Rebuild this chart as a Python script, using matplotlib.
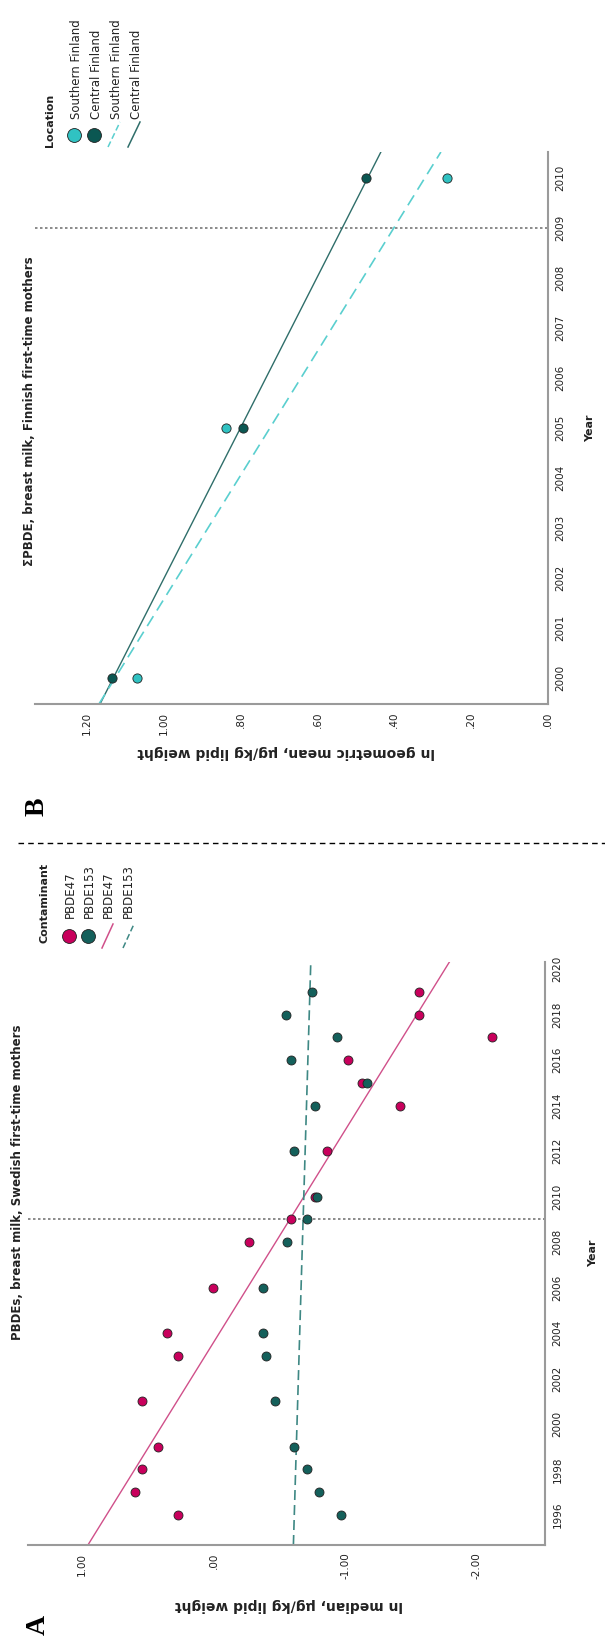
import numpy as np
import matplotlib
matplotlib.use("Agg")
import matplotlib.pyplot as plt
from matplotlib.lines import Line2D

plt.rcParams['font.family'] = ['DejaVu Sans']

# ---------------- data ----------------
# Panel A: Swedish first-time mothers, ln median (ug/kg lipid weight)
years_a = [1996, 1997, 1998, 1999, 2001, 2003, 2004, 2006, 2008, 2009,
           2010, 2012, 2014, 2015, 2016, 2017, 2018, 2019]
pbde47 = [0.27, 0.60, 0.54, 0.42, 0.54, 0.27, 0.35, 0.00, -0.27, -0.59,
          -0.77, -0.86, -1.42, -1.13, -1.02, -2.12, -1.56, -1.56]
pbde153 = [-0.97, -0.80, -0.71, -0.61, -0.47, -0.40, -0.38, -0.38, -0.56, -0.71,
           -0.79, -0.61, -0.77, -1.17, -0.59, -0.94, -0.55, -0.75]
contaminants = ["PBDE47", "PBDE153"]
ticks_year_a = list(range(1996, 2021, 2))
ticks_val_a = [1.0, 0.0, -1.0, -2.0]

# Panel B: Finnish first-time mothers, ln geometric mean
years_b = [2000, 2005, 2010]
southern = [1.07, 0.837, 0.264]
central = [1.135, 0.793, 0.473]
locations = ["Southern Finland", "Central Finland"]
ticks_year_b = list(range(2000, 2011))
ticks_val_b = [1.2, 1.0, 0.8, 0.6, 0.4, 0.2, 0.0]

ref_year = 2009

# ---------------- styling ----------------
W, H = 605, 1641
C47 = "#C8005C"
C153 = "#14605B"
C47_LINE = "#D0508A"
C153_LINE = "#3E8884"
CSOUTH = "#30C2C2"
CCENT = "#0B5752"
CSOUTH_LINE = "#5ACFCF"
CCENT_LINE = "#2F6E6A"
SPINE = "#9A9A9A"
TXT = "#222222"

fig = plt.figure(figsize=(W / 100, H / 100), dpi=100)


def fx(x):
    return x / W


def fy(y):
    return 1 - y / H


def rect(left, right, top, bottom):
    return [fx(left), fy(bottom), (right - left) / W, (bottom - top) / H]


def fmt(v):
    s = f"{v:.2f}"
    if s.startswith("0."):
        s = s[1:]
    elif s.startswith("-0."):
        s = "-" + s[2:]
    return s


def style_axes(ax, yticks, xticks):
    for sp in ["top", "left"]:
        ax.spines[sp].set_visible(False)
    for sp in ["bottom", "right"]:
        ax.spines[sp].set_color(SPINE)
        ax.spines[sp].set_linewidth(1.5)
    ax.yaxis.tick_right()
    ax.set_yticks(yticks)
    ax.set_yticklabels([str(y) for y in yticks])
    ax.set_xticks(xticks)
    ax.set_xticklabels([fmt(v) for v in xticks])
    ax.tick_params(axis="both", length=0, labelsize=7.5, colors=TXT, pad=5.5)
    ax.tick_params(axis="x", labelrotation=90)
    ax.tick_params(axis="y", labelrotation=90)
    for lab in ax.get_yticklabels():
        lab.set_va("center")
    ax.patch.set_alpha(0)


# ---------------- Panel A ----------------
axA = fig.add_axes(rect(28, 545, 962, 1545))
ylimA = (1994.68, 2020.31)
xlimA = (1.41, -2.52)
axA.set_xlim(*xlimA)
axA.set_ylim(*ylimA)
axA.axhline(ref_year, color="#777777", lw=1.2, ls=(0, (1.5, 1.5)), zorder=1)
yy = np.array(ylimA)
c47 = np.polyfit(years_a, pbde47, 1)
c153 = np.polyfit(years_a, pbde153, 1)
axA.plot(np.polyval(c47, yy), yy, color=C47_LINE, lw=1.0, zorder=2)
axA.plot(np.polyval(c153, yy), yy, color=C153_LINE, lw=1.2, ls=(0, (6, 3)), zorder=2)
axA.scatter(pbde47, years_a, s=42, color=C47, edgecolor="#222222", linewidth=0.6, zorder=3)
axA.scatter(pbde153, years_a, s=42, color=C153, edgecolor="#222222", linewidth=0.6, zorder=3)
style_axes(axA, ticks_year_a, ticks_val_a)

# ---------------- Panel B ----------------
axB = fig.add_axes(rect(35, 548, 152, 704))
ylimB = (1999.48, 2010.52)
xlimB = (1.335, 0.0)
axB.set_xlim(*xlimB)
axB.set_ylim(*ylimB)
axB.axhline(ref_year, color="#777777", lw=1.2, ls=(0, (1.5, 1.5)), zorder=1)
yb = np.array(ylimB)
cs = np.polyfit(years_b, southern, 1)
cc = np.polyfit(years_b, central, 1)
axB.plot(np.polyval(cc, yb), yb, color=CCENT_LINE, lw=1.0, zorder=2)
axB.plot(np.polyval(cs, yb), yb, color=CSOUTH_LINE, lw=1.2, ls=(0, (7, 4)), zorder=2)
axB.scatter(southern, years_b, s=44, color=CSOUTH, edgecolor="#222222", linewidth=0.6, zorder=3)
axB.scatter(central, years_b, s=44, color=CCENT, edgecolor="#222222", linewidth=0.6, zorder=3)
style_axes(axB, ticks_year_b, ticks_val_b)

# ---------------- texts ----------------
fig.text(fx(18), fy(1182), "PBDEs, breast milk, Swedish first-time mothers",
         rotation=90, ha="center", va="center", fontsize=8.5, fontweight="bold", color=TXT)
fig.text(fx(30), fy(411), "\u03a3PBDE, breast milk, Finnish first-time mothers",
         rotation=90, ha="center", va="center", fontsize=8.5, fontweight="bold", color=TXT)
fig.text(fx(593), fy(1253), "Year", rotation=90, ha="center", va="center",
         fontsize=8, fontweight="bold", color=TXT)
fig.text(fx(590), fy(428), "Year", rotation=90, ha="center", va="center",
         fontsize=8, fontweight="bold", color=TXT)
fig.text(fx(289), fy(1605), "ln median, \u00b5g/kg lipid weight", rotation=180,
         ha="center", va="center", fontsize=10, fontweight="bold", color=TXT)
fig.text(fx(286), fy(752), "ln geometric mean, \u00b5g/kg lipid weight", rotation=180,
         ha="center", va="center", fontsize=10, fontweight="bold", color=TXT)
fig.text(fx(38), fy(1625), "A", rotation=90, ha="center", va="center",
         fontsize=20, fontweight="bold", family="Liberation Serif", color="black")
fig.text(fx(37), fy(807), "B", rotation=90, ha="center", va="center",
         fontsize=20, fontweight="bold", family="Liberation Serif", color="black")

# separator
fig.add_artist(Line2D([fx(18), fx(605)], [fy(843), fy(843)], color="black",
                      lw=1.0, ls=(0, (4, 3))))

# ---------------- legends ----------------
def legend(title, tx, tbot, circ_x, circ_y, circ_cols, line_segs, line_cols, line_styles,
           lab_x, lab_bot, labels):
    fig.text(fx(tx), fy(tbot), title, rotation=90, ha="center", va="bottom",
             fontsize=8, fontweight="bold", color=TXT)
    for x, c in zip(circ_x, circ_cols):
        fig.add_artist(Line2D([fx(x)], [fy(circ_y)], marker="o", markersize=10,
                              markerfacecolor=c, markeredgecolor="#222222",
                              markeredgewidth=0.6, ls="none"))
    for (x0, y0, x1, y1), c, ls in zip(line_segs, line_cols, line_styles):
        fig.add_artist(Line2D([fx(x0), fx(x1)], [fy(y0), fy(y1)], color=c, lw=1.1, ls=ls))
    for x, s in zip(lab_x, labels):
        fig.text(fx(x), fy(lab_bot), s, rotation=90, ha="center", va="bottom",
                 fontsize=8.5, color=TXT)


legend("Contaminant", 45, 943, [69, 88], 936, [C47, C153],
       [(102, 948, 113, 924), (123, 948, 134, 924)], [C47_LINE, C153_LINE],
       ["-", (0, (4, 2))], [70, 89, 108, 128], 918, contaminants + contaminants)
legend("Location", 50, 147, [74, 94], 135, [CSOUTH, CCENT],
       [(108, 147, 120, 122), (128, 147, 140, 122)], [CSOUTH_LINE, CCENT_LINE],
       [(0, (4, 2)), "-"], [77, 97, 117, 136], 119, locations + locations)

fig.savefig("out.png", dpi=100)
